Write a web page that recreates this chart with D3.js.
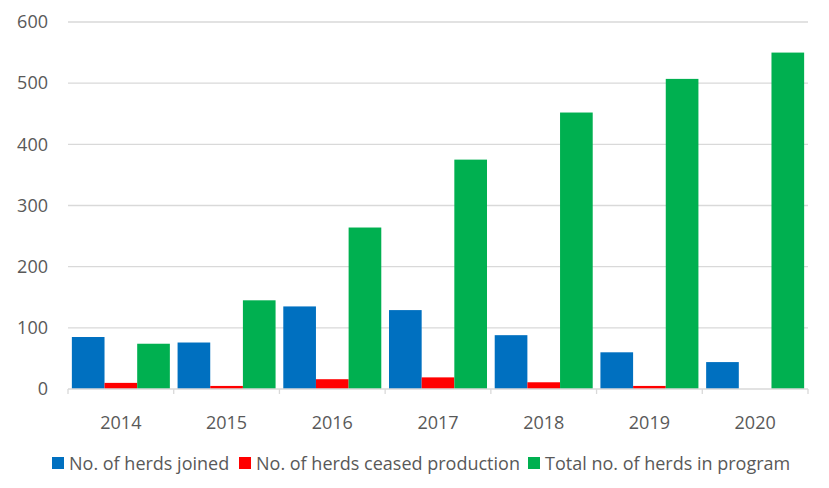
<!DOCTYPE html>
<meta charset="utf-8">
<html lang="en">
<style>
body { margin: 0; background: #fff; }
.grid line { stroke: #d9d9d9; stroke-width: 1.3px; }
.axis text { fill: #595959; font: 18px "Open Sans", sans-serif; }
.legend text { fill: #595959; font: 18px "Open Sans", sans-serif; }
</style>
<body>
<div id="chart"></div>
<script src="https://cdn.jsdelivr.net/npm/d3@7"></script>
<script>
// data
var years = ["2014", "2015", "2016", "2017", "2018", "2019", "2020"],
    joined = [85, 76, 135, 129, 88, 60, 44],
    ceased = [10, 5, 16, 19, 11, 5, 0],
    total = [74, 145, 264, 375, 452, 507, 550],
    yTicks = [0, 100, 200, 300, 400, 500, 600],
    seriesNames = ["No. of herds joined", "No. of herds ceased production", "Total no. of herds in program"],
    colors = ["#0070C0", "#FF0000", "#00B050"];

var width = 829, height = 488,
    margin = {top: 22, right: 21, bottom: 99, left: 68};

var svg = d3.select("#chart").append("svg")
    .attr("width", width)
    .attr("height", height);

var g = svg.append("g")
    .attr("transform", "translate(" + margin.left + "," + margin.top + ")");

var w = width - margin.left - margin.right,
    h = height - margin.top - margin.bottom;

var x0 = d3.scaleBand().domain(years).range([0, w]).paddingInner(0.073).paddingOuter(0.0365);
var x1 = d3.scaleBand().domain([0, 1, 2]).range([0, x0.bandwidth()]);
var y = d3.scaleLinear().domain([0, 600]).range([h, 0]);

// gridlines
g.append("g").attr("class", "grid")
  .selectAll("line").data(yTicks.slice(1)).enter().append("line")
    .attr("x1", 0).attr("x2", w)
    .attr("y1", function(d) { return y(d); })
    .attr("y2", function(d) { return y(d); });

var series = [joined, ceased, total];

var groups = g.selectAll(".year").data(years).enter().append("g")
    .attr("class", "year")
    .attr("transform", function(d) { return "translate(" + x0(d) + ",0)"; });

groups.selectAll("rect")
    .data(function(d, i) { return series.map(function(s, k) { return {k: k, v: s[i]}; }); })
    .enter().append("rect")
    .attr("x", function(d) { return x1(d.k); })
    .attr("width", x1.bandwidth())
    .attr("y", function(d) { return y(d.v); })
    .attr("height", function(d) { return h - y(d.v); })
    .attr("fill", function(d) { return colors[d.k]; });

// x axis: baseline plus ticks at category boundaries
var xAxis = g.append("g").attr("class", "axis")
    .attr("transform", "translate(0," + h + ")");
xAxis.append("line").attr("x1", 0).attr("x2", w)
    .attr("stroke", "#d9d9d9").attr("stroke-width", 1.3);
var step = w / years.length;
xAxis.selectAll(".tk").data(d3.range(years.length + 1)).enter().append("line")
    .attr("x1", function(d) { return d * step; })
    .attr("x2", function(d) { return d * step; })
    .attr("y1", 0).attr("y2", 5)
    .attr("stroke", "#d9d9d9").attr("stroke-width", 1.3);
xAxis.selectAll("text").data(years).enter().append("text")
    .attr("x", function(d) { return x0(d) + x0.bandwidth() / 2; })
    .attr("y", 40)
    .attr("text-anchor", "middle")
    .text(function(d) { return d; });

// y axis labels
var yAxis = g.append("g").attr("class", "axis")
    .call(d3.axisLeft(y).tickValues(yTicks).tickSize(0).tickPadding(20));
yAxis.select(".domain").remove();
yAxis.selectAll("text").attr("fill", "#595959").style("font", "18px 'Open Sans', sans-serif");

// legend
var legendX = [52, 239, 528];
var legend = svg.append("g").attr("class", "legend");
var items = legend.selectAll("g").data(seriesNames).enter().append("g")
    .attr("transform", function(d, i) { return "translate(" + legendX[i] + ",457)"; });
items.append("rect").attr("width", 12).attr("height", 12)
    .attr("fill", function(d, i) { return colors[i]; });
items.append("text").attr("x", 17).attr("y", 12.5)
    .text(function(d) { return d; });
</script>
</body>
</html>
